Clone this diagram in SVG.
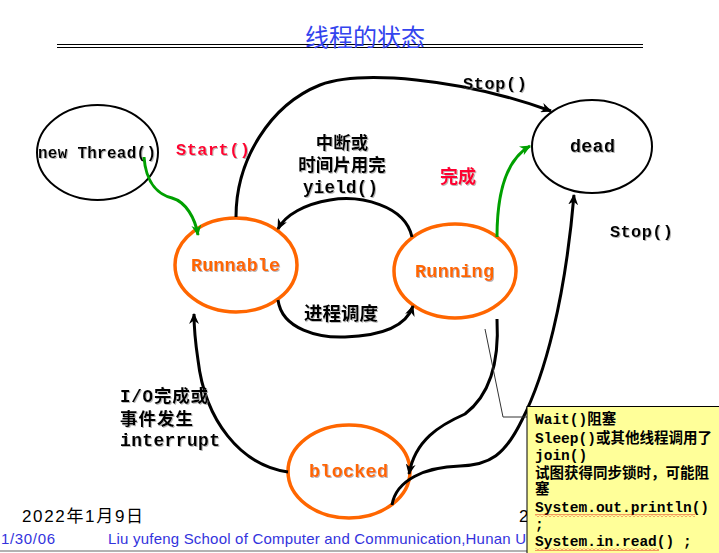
<svg xmlns="http://www.w3.org/2000/svg" width="719" height="553" viewBox="0 0 719 553">
<defs>
<style>
.mono{font-family:"Liberation Mono","Courier New",monospace;font-weight:bold;}
.cjk{font-family:"Noto Sans CJK SC","Noto Sans CJK TC",sans-serif;font-weight:bold;}
.mix{font-family:"Liberation Mono","Noto Sans CJK SC",monospace;font-weight:bold;}
.state{fill:#fff;stroke:#000;stroke-width:2;}
.ostate{fill:#fff;stroke:#FF6600;stroke-width:3.5;}
.olabel{fill:#FF6600;font-size:18.5px;}
.conn{fill:none;stroke:#000;stroke-width:3;}
.gconn{fill:none;stroke:#00A000;stroke-width:3;}
.foot{font-family:"Liberation Sans",Arial,sans-serif;fill:#3333DD;font-size:15px;}
.call{font-size:14.5px;fill:#000;}
</style>
<filter id="sh" x="-10%" y="-30%" width="130%" height="170%">
<feDropShadow dx="1" dy="1" stdDeviation="0.6" flood-color="#888" flood-opacity="0.6"/>
</filter>
<marker id="ar" viewBox="0 0 10 9" refX="9" refY="4.5" markerWidth="11" markerHeight="10" markerUnits="userSpaceOnUse" orient="auto">
<path d="M0,0 L10,4.5 L0,9 L3,4.5 z" fill="#000"/>
</marker>
<marker id="ag" viewBox="0 0 10 9" refX="9" refY="4.5" markerWidth="11" markerHeight="10" markerUnits="userSpaceOnUse" orient="auto">
<path d="M0,0 L10,4.5 L0,9 L3,4.5 z" fill="#00A000"/>
</marker>
<pattern id="wavy" width="4" height="3" patternUnits="userSpaceOnUse">
<path d="M0,2.5 L2,0.5 L4,2.5" fill="none" stroke="#E00000" stroke-width="0.8"/>
</pattern>
</defs>
<rect x="0" y="0" width="719" height="553" fill="#fff"/>

<g id="title">
<line x1="57" y1="44.5" x2="643" y2="44.5" stroke="#000" stroke-width="1.2"/>
<line x1="57" y1="47.5" x2="643" y2="47.5" stroke="#000" stroke-width="1.2"/>
<text x="365" y="46" text-anchor="middle" font-family="'Noto Sans CJK SC',sans-serif" font-size="24" fill="#3344EE">线程的状态</text>
</g>

<g id="node-newthread">
<ellipse class="state" cx="97.5" cy="152.5" rx="60.5" ry="47.5"/>
<text class="mono" x="38" y="158" font-size="16" textLength="118" filter="url(#sh)">new Thread()</text>
</g>
<g id="node-dead">
<ellipse class="state" cx="592" cy="146.5" rx="60" ry="46.5"/>
<text class="mono" x="570" y="152" font-size="18.5" textLength="45" filter="url(#sh)">dead</text>
</g>

<g id="node-runnable">
<ellipse class="ostate" cx="236" cy="265" rx="61" ry="47"/>
<text class="mono olabel" x="191" y="271" textLength="89" filter="url(#sh)">Runnable</text>
</g>
<g id="node-running">
<ellipse class="ostate" cx="455" cy="271" rx="61" ry="47"/>
<text class="mono olabel" x="415" y="277" textLength="79" filter="url(#sh)">Running</text>
</g>
<g id="node-blocked">
<ellipse class="ostate" cx="349" cy="471.5" rx="61" ry="46.5"/>
<text class="mono olabel" x="309" y="477" textLength="79" filter="url(#sh)">blocked</text>
</g>

<g id="connectors">
<path class="gconn" d="M144,157 C146,185 160,195 172,198 C186,202 195,218 198,235" marker-end="url(#ag)"/>
<path class="conn" d="M236,217 C236,160 270,105 320,85 C360,70 460,78 551,111" marker-end="url(#ar)"/>
<path class="conn" d="M412,237 C405,205 360,195 330,200 C305,204 285,215 278,229" marker-end="url(#ar)"/>
<path class="conn" d="M278,300 C282,330 320,338 345,337 C375,336 405,330 413,306" marker-end="url(#ar)"/>
<path class="gconn" d="M497,237 C497,195 505,160 530,146" marker-end="url(#ag)"/>
<path class="conn" d="M497,319 C499,355 494,392 465,414 C440,425 415,440 409,474" marker-end="url(#ar)"/>
<path class="conn" d="M392,505 C396,480 425,467 460,466 C490,465 505,455 522,420 C545,375 565,300 574,195" marker-end="url(#ar)"/>
<path class="conn" d="M288,472 C240,465 205,420 198,360 C195,340 194,325 194,314" marker-end="url(#ar)"/>
</g>

<g id="labels" filter="url(#sh)">
<text class="mono" x="176" y="155" font-size="17" fill="#FF0033" textLength="74">Start()</text>
<text class="mono" x="463" y="89" font-size="17" textLength="64">Stop()</text>
<text class="mono" x="610" y="237" font-size="17" textLength="63">Stop()</text>
<text class="cjk" x="342" y="149" font-size="17.5" text-anchor="middle">中断或</text>
<text class="cjk" x="342" y="171" font-size="17.5" text-anchor="middle">时间片用完</text>
<text class="mono" x="303" y="193" font-size="17.5" textLength="75">yield()</text>
<text class="cjk" x="440" y="183" font-size="18" fill="#FF0033">完成</text>
<text class="cjk" x="304" y="320" font-size="18.5">进程调度</text>
<text class="mix" x="120" y="402" font-size="17.5" textLength="88">I/O完成或</text>
<text class="cjk" x="120" y="425" font-size="17.5" textLength="73">事件发生</text>
<text class="mono" x="120" y="446" font-size="18" textLength="100">interrupt</text>
</g>

<g id="footer">
<text x="22" y="522" font-family="'Liberation Sans','Noto Sans CJK SC',sans-serif" font-size="17" textLength="121">2022年1月9日</text>
<text x="519" y="522" font-family="'Liberation Sans',sans-serif" font-size="17">2</text>
<text class="foot" x="1" y="544" textLength="54">1/30/06</text>
<text class="foot" x="108" y="544" textLength="418">Liu yufeng School of Computer and Communication,Hunan U</text>
<line x1="0" y1="551" x2="719" y2="551" stroke="#999" stroke-width="1.5"/>
</g>

<g id="callout">
<polyline points="485,329 503,417 527,417" fill="none" stroke="#333" stroke-width="1"/>
<rect x="527" y="406.5" width="200" height="160" fill="#FFFF99" stroke="#000" stroke-width="1"/>
<text class="mix call" x="535" y="424">Wait()阻塞</text>
<text class="mix call" x="535" y="443">Sleep()或其他线程调用了</text>
<text class="mix call" x="535" y="460">join()</text>
<text class="mix call" x="535" y="478">试图获得同步锁时，可能阻</text>
<text class="mix call" x="535" y="494">塞</text>
<text class="mix call" x="535" y="512">System.out.println()</text>
<text class="mix call" x="535" y="529">;</text>
<text class="mix call" x="535" y="546">System.in.read() ;</text>
<rect x="535" y="514" width="160" height="3" fill="url(#wavy)"/>
<rect x="535" y="548" width="124" height="3" fill="url(#wavy)"/>
</g>
</svg>
